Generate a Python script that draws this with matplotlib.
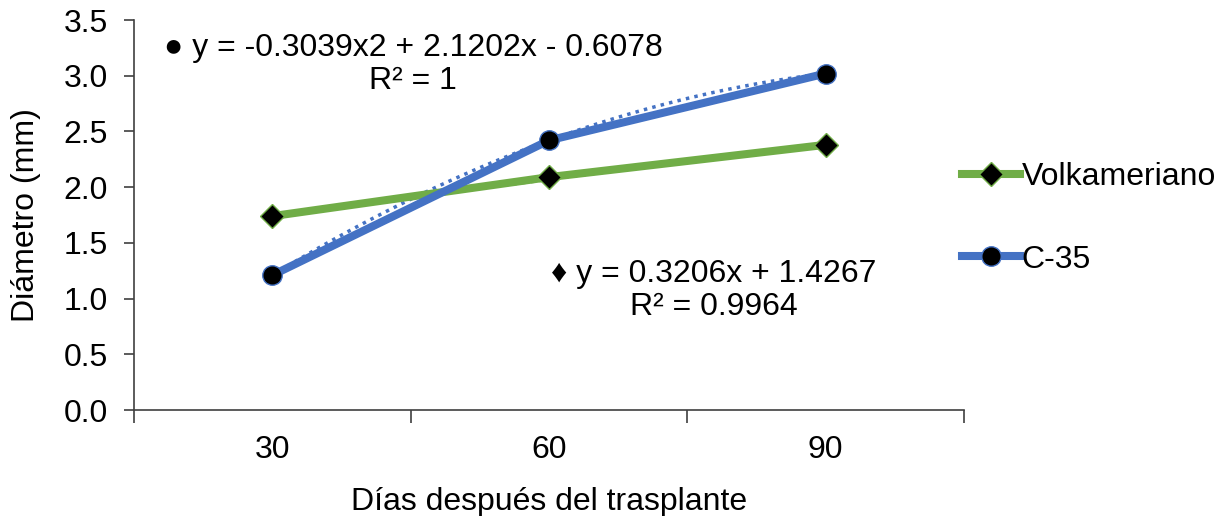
import matplotlib.pyplot as plt
import numpy as np

plt.rcParams['font.family'] = ['Liberation Sans', 'DejaVu Sans']

# datos
dias = ['30', '60', '90']
volkameriano = [1.74, 2.09, 2.38]
c35 = [1.21, 2.42, 3.02]
yticks = [0.0, 0.5, 1.0, 1.5, 2.0, 2.5, 3.0, 3.5]

verde = '#70AD47'
azul = '#4472C4'

fig = plt.figure(figsize=(12.26, 5.16), dpi=100)
ax = fig.add_axes([0.1093, 0.2054, 0.677, 0.7558])

x = np.arange(1, len(dias) + 1)

# lineas de tendencia (ajuste polinomico / lineal como en Excel)
xs = np.linspace(1, 3, 100)
p2 = np.polyfit(x, c35, 2)
p1 = np.polyfit(x, volkameriano, 1)
ax.plot(xs, np.polyval(p2, xs), color=azul, lw=2.5, ls=(0, (1, 1.5)), zorder=2)
ax.plot(xs, np.polyval(p1, xs), color=verde, lw=2.5, ls=(0, (1, 1.5)), zorder=1)

ax.plot(x, volkameriano, color=verde, lw=5.8, marker='D', ms=12,
        mfc='black', mec=verde, mew=1, label='Volkameriano', zorder=3)
ax.plot(x, c35, color=azul, lw=5.8, marker='o', ms=14,
        mfc='black', mec=azul, mew=1, label='C-35', zorder=4)

ax.set_xlim(0.5, 3.5)
ax.set_ylim(0, 3.5)
ax.set_yticks(yticks)
ax.set_yticklabels([f'{v:.1f}' for v in yticks])
ax.set_xticks([0.5, 1.5, 2.5, 3.5])
ax.set_xticklabels([])
ax.set_xticks(x, minor=True)
ax.set_xticklabels(dias, minor=True)
ax.tick_params(axis='x', which='major', length=9, width=1.2, color='#404040')
ax.tick_params(axis='x', which='minor', length=0, pad=18, labelsize=23)
ax.tick_params(axis='y', length=7, width=1.2, color='#404040', labelsize=23, pad=12)

for s in ['top', 'right']:
    ax.spines[s].set_visible(False)
ax.spines['left'].set_color('#404040')
ax.spines['bottom'].set_color('#404040')
ax.spines['left'].set_linewidth(1.2)
ax.spines['bottom'].set_linewidth(1.2)

ax.set_xlabel('Días después del trasplante', fontsize=23, labelpad=16)
ax.set_ylabel('Diámetro (mm)', fontsize=23, labelpad=16)

fig.text(0.337, 0.875, '● y = -0.3039x2 + 2.1202x - 0.6078\nR² = 1',
         ha='center', va='center', fontsize=23, linespacing=1.1)
fig.text(0.582, 0.437, '♦ y = 0.3206x + 1.4267\nR² = 0.9964',
         ha='center', va='center', fontsize=23, linespacing=1.1)

fig.legend(loc='center left', bbox_to_anchor=(0.785, 0.577), frameon=False,
           fontsize=23, labelspacing=1.65, handlelength=1.8, handletextpad=0.05,
           borderpad=0, borderaxespad=0)

plt.savefig('out.png')
